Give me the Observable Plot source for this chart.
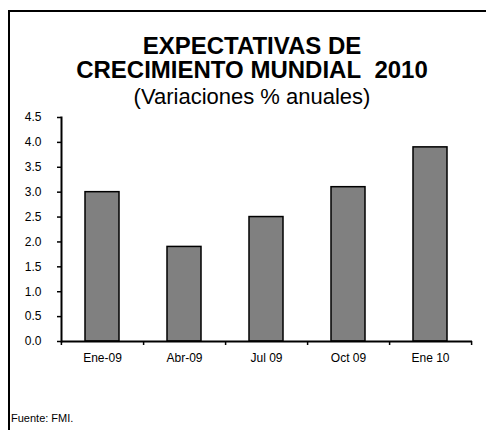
<!DOCTYPE html>
<html>
<head>
<meta charset="utf-8">
<script src="https://cdn.jsdelivr.net/npm/d3@7"></script>
<script src="https://cdn.jsdelivr.net/npm/@observablehq/plot@0.6"></script>
<style>
  html, body { margin: 0; padding: 0; background: #fff; }
  body { width: 486px; height: 430px; position: relative; overflow: hidden; font-family: "Liberation Sans", Arial, sans-serif; color: #000; }
  .frame { position: absolute; left: 8px; top: 10px; width: 480px; height: 430px; border-top: 2px solid #000; border-left: 2px solid #000; }
  .t { position: absolute; left: 0; width: 504px; text-align: center; white-space: nowrap; }
  .t1 { top: 34px; font-size: 24px; line-height: 24px; font-weight: bold; }
  .t3 { top: 86px; font-size: 22px; line-height: 22px; }
  .src { position: absolute; left: 11px; top: 412px; font-size: 11px; line-height: 12px; }
  #chart { position: absolute; left: 0; top: 110px; }
</style>
</head>
<body>
<div class="frame"></div>
<div class="t t1">EXPECTATIVAS DE<br>CRECIMIENTO MUNDIAL&nbsp; 2010</div>
<div class="t t3">(Variaciones % anuales)</div>
<div id="chart"></div>
<div class="src">Fuente: FMI.</div>
<script>
const categories = ["Ene-09", "Abr-09", "Jul 09", "Oct 09", "Ene 10"];
const values = [3.0, 1.9, 2.5, 3.1, 3.9];
const yTicks = [0, 0.5, 1.0, 1.5, 2.0, 2.5, 3.0, 3.5, 4.0, 4.5];

const data = categories.map((c, i) => ({cat: c, value: values[i]}));

const W = 486, H = 270, ML = 61, MR = 14, MT = 7, MB = 39;
const step = (W - ML - MR) / categories.length;

const chart = Plot.plot({
  width: W, height: H,
  marginLeft: ML, marginRight: MR, marginTop: MT, marginBottom: MB,
  style: {fontFamily: "'Liberation Sans', Arial, sans-serif", fontSize: "12px", color: "#000", background: "transparent", overflow: "visible"},
  x: {domain: categories, paddingInner: 0.58, paddingOuter: 0.29, axis: null, label: null},
  y: {domain: [0, 4.5], axis: null, label: null},
  marks: [
    Plot.barY(data, {x: "cat", y: "value", fill: "#808080", stroke: "#000", strokeWidth: 1.5}),
    Plot.axisY({ticks: yTicks, tickFormat: d3.format(".1f"), tickSize: 4, tickPadding: 16, strokeWidth: 1.5, label: null}),
    Plot.ruleY([0], {strokeWidth: 2}),
    Plot.frame({anchor: "left", strokeWidth: 2}),
    Plot.axisX({ticks: categories, tickSize: 0, tickPadding: 12, label: null}),
    Plot.axisX({ticks: categories, tickSize: 4, tickFormat: () => "", dx: step / 2, strokeWidth: 1.5, label: null}),
    Plot.axisX({ticks: categories.slice(0, 1), tickSize: 4, tickFormat: () => "", dx: -step / 2, strokeWidth: 1.5, label: null})
  ]
});
document.getElementById("chart").appendChild(chart);
</script>
</body>
</html>
